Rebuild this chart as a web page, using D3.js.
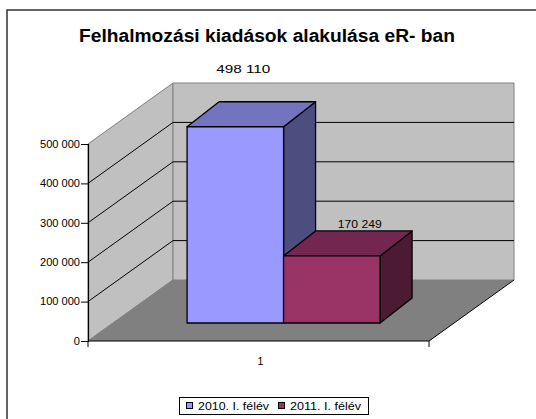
<!DOCTYPE html>
<html><head><meta charset="utf-8">
<script src="https://cdn.jsdelivr.net/npm/d3@7"></script>
<style>body{margin:0;background:#fff}svg{display:block}text{font-family:Arial,"Liberation Sans",sans-serif}</style>
</head><body><svg id="c" width="536" height="419"></svg>
<script>
const title = "Felhalmozási kiadások alakulása eR- ban";
const categories = ["1"];
const seriesNames = ["2010. I. félév", "2011. I. félév"];
const seriesValues = [498110, 170249];
const valueLabels = ["498 110", "170 249"];
const yTicks = [0, 100000, 200000, 300000, 400000, 500000];
const tickLabels = ["0", "100 000", "200 000", "300 000", "400 000", "500 000"];

const colors = [
  {front:"#9999FF", top:"#7373C0", side:"#4D4D80"},
  {front:"#993366", top:"#732650", side:"#4D1A33"}
];
const labelStyle = [{dx:8, dy:-54, w:54}, {dx:28, dy:-28, w:44}];

const svg = d3.select("#c");
const fit = (t, w) => t.attr("textLength", w).attr("lengthAdjust","spacingAndGlyphs");
const stretch = (t, k) => fit(t, t.node().getComputedTextLength()*k);

svg.append("rect").attr("x",7).attr("y",10).attr("width",540).attr("height",420)
  .attr("fill","#fff").attr("stroke","#333").attr("stroke-width",1.5);

const plot = {x0:88, x1:429, yBottom:341, yTop:144};
const depth = {dx:85, dy:61};
const y = d3.scaleLinear().domain([0,500000]).range([plot.yBottom, plot.yTop]);
const xCat = d3.scaleBand().domain(categories).range([plot.x0, plot.x1]);
const xSer = d3.scaleBand().domain(seriesNames).range([0, xCat.bandwidth()]).paddingOuter(0.767).paddingInner(0);

const P = (x, v, z) => [x + z*depth.dx, y(v) - z*depth.dy];
const poly = pts => pts.map(p=>p.join(",")).join(" ");

const wallStroke = "#808080";
svg.append("polygon").attr("points", poly([P(plot.x0,0,0),P(plot.x1,0,0),P(plot.x1,0,1),P(plot.x0,0,1)]))
  .attr("fill","#808080").attr("stroke","none");
svg.append("polygon").attr("points", poly([P(plot.x0,0,0),P(plot.x0,500000,0),P(plot.x0,500000,1),P(plot.x0,0,1)]))
  .attr("fill","#C0C0C0").attr("stroke",wallStroke);
svg.append("polygon").attr("points", poly([P(plot.x0,0,1),P(plot.x0,500000,1),P(plot.x1,500000,1),P(plot.x1,0,1)]))
  .attr("fill","#C0C0C0").attr("stroke",wallStroke);

yTicks.filter(t=>t>0 && t<500000).forEach(t=>{
  svg.append("polyline").attr("points", poly([P(plot.x0,t,0),P(plot.x0,t,1),P(plot.x1,t,1)]))
    .attr("fill","none").attr("stroke","#000").attr("stroke-width",1);
});

const line = (a,b,col,w) => svg.append("line").attr("x1",a[0]).attr("y1",a[1]).attr("x2",b[0]).attr("y2",b[1]).attr("stroke",col).attr("stroke-width",w);
line(P(plot.x0,0,0), P(plot.x1,0,0), "#000", 1.2);
line(P(plot.x1,0,0), P(plot.x1,0,1), "#000", 1);
line(P(plot.x0,0,0), P(plot.x0,0,1), "#808080", 1);

const axisG = svg.append("g").attr("transform",`translate(${plot.x0},0)`)
  .call(d3.axisLeft(y).tickValues(yTicks).tickFormat((d,i)=>tickLabels[i]).tickSize(7).tickPadding(1));
axisG.select(".domain").attr("stroke","#000").attr("stroke-width",1.2);
axisG.selectAll(".tick line").attr("stroke","#000");
const tt = axisG.selectAll(".tick text").attr("font-size","10px").attr("fill","#000").attr("font-family","Arial, 'Liberation Sans', sans-serif");
let kTick = 1;
tt.each(function(d,i){ if (tickLabels[i]==="500 000") kTick = 40/this.getComputedTextLength(); });
tt.each(function(){ stretch(d3.select(this), kTick); });

[plot.x0, plot.x1].forEach(xx=>{
  svg.append("line").attr("x1",xx).attr("x2",xx).attr("y1",plot.yBottom).attr("y2",plot.yBottom+6).attr("stroke","#000");
});
svg.append("text").attr("x", xCat(categories[0]) + xCat.bandwidth()/2 + 2).attr("y", 365)
  .attr("text-anchor","middle").attr("font-size","10.5px").text(categories[0]);

const zF = 0.295, bdx = 32, bdy = 25;
seriesNames.forEach((s,i)=>{
  const v = seriesValues[i];
  const xl = xCat(categories[0]) + xSer(s), xr = xl + xSer.bandwidth();
  const fl = P(xl,0,zF), fr = P(xr,0,zF), tl = P(xl,v,zF), tr = P(xr,v,zF);
  const off = p => [p[0]+bdx, p[1]-bdy];
  const g = svg.append("g").attr("stroke","#000").attr("stroke-width",1.3).attr("stroke-linejoin","round");
  g.append("polygon").attr("points", poly([fr,tr,off(tr),off(fr)])).attr("fill",colors[i].side);
  g.append("polygon").attr("points", poly([tl,tr,off(tr),off(tl)])).attr("fill",colors[i].top);
  g.append("polygon").attr("points", poly([fl,tl,tr,fr])).attr("fill",colors[i].front);
  const t = svg.append("text").attr("x",(fl[0]+fr[0])/2 + labelStyle[i].dx).attr("y", tl[1] + labelStyle[i].dy)
    .attr("text-anchor","middle").attr("font-size","10px").text(valueLabels[i]);
  fit(t, labelStyle[i].w);
});

fit(svg.append("text").attr("x",267).attr("y",42).attr("text-anchor","middle")
  .attr("font-size","18px").attr("font-weight","bold").text(title), 376);

const lg = svg.append("g");
lg.append("rect").attr("x",179.5).attr("y",397.5).attr("width",189).attr("height",17).attr("fill","#fff").attr("stroke","#000");
const legendPos = [186, 278];
seriesNames.forEach((s,i)=>{
  lg.append("rect").attr("x",legendPos[i]+0.5).attr("y",402.5).attr("width",6).attr("height",6).attr("fill",colors[i].front).attr("stroke","#000");
  fit(lg.append("text").attr("x",legendPos[i]+12).attr("y",410).attr("font-size","10.5px").text(s), 71);
});
</script></body></html>
